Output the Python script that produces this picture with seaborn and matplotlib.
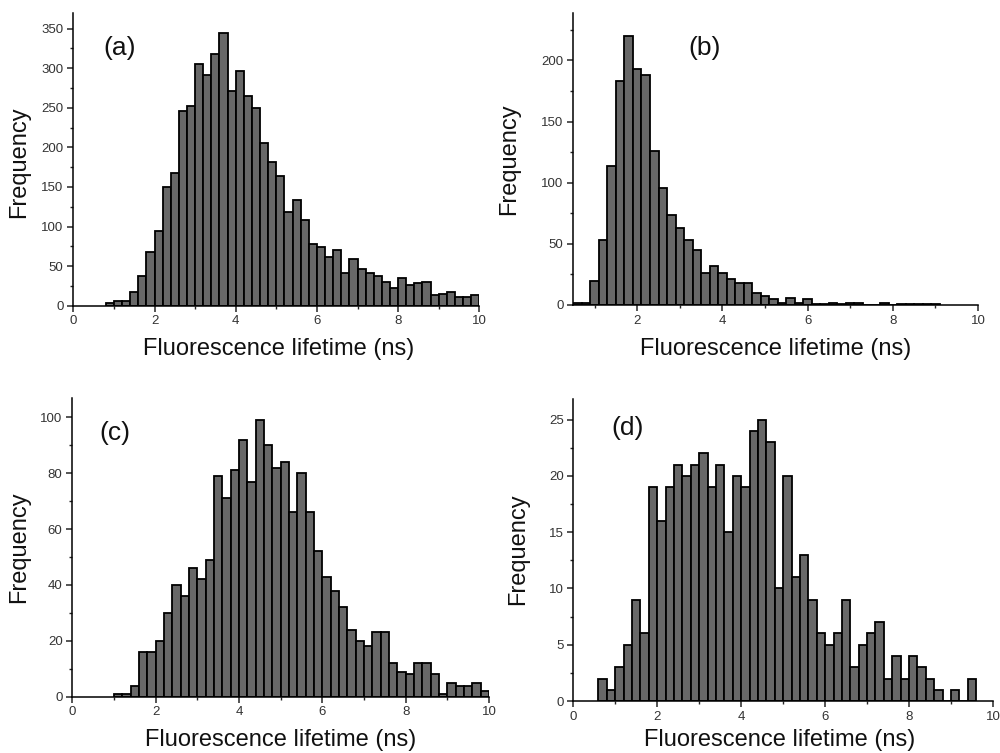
import numpy as np
import pandas as pd
import matplotlib
matplotlib.use("Agg")
import matplotlib.pyplot as plt
from matplotlib.ticker import MultipleLocator
import seaborn as sns

# ---------------- data (counts per 0.2 ns bin) ----------------
bin_width = 0.2

start_a = 0.8
counts_a = [4, 6, 6, 17, 37, 68, 95, 150, 168, 246, 252, 305, 291, 318, 344,
            271, 297, 265, 250, 205, 182, 164, 119, 133, 108, 78, 74, 61, 70,
            41, 59, 46, 41, 37, 30, 23, 35, 26, 29, 30, 13, 15, 17, 11, 11, 14]

start_b = 0.5
counts_b = [2, 2, 20, 53, 114, 183, 220, 193, 188, 126, 96, 74, 63, 53, 45,
            26, 32, 26, 21, 18, 18, 10, 7, 5, 2, 6, 2, 5, 1, 1, 2, 1, 2, 2,
            0, 0, 2, 0, 1, 1, 1, 1, 1]

start_c = 1.0
counts_c = [1, 1, 4, 16, 16, 20, 30, 40, 36, 46, 42, 49, 79, 71, 81, 92, 77,
            99, 90, 82, 84, 66, 80, 66, 52, 43, 38, 32, 24, 20, 18, 23, 23,
            12, 9, 8, 12, 12, 8, 1, 5, 4, 4, 5, 2]

start_d = 0.6
counts_d = [2, 1, 3, 5, 9, 6, 19, 16, 19, 21, 20, 21, 22, 19, 21, 15, 20, 19,
            24, 25, 23, 10, 20, 11, 13, 9, 6, 5, 6, 9, 3, 5, 6, 7, 2, 4, 2, 4,
            3, 2, 1, 0, 1, 0, 2]

panel_labels = ["(a)", "(b)", "(c)", "(d)"]
x_label = "Fluorescence lifetime (ns)"
y_label = "Frequency"

# ---------------- style ----------------
sns.set_style("ticks")
plt.rcParams["font.family"] = ["Liberation Sans", "DejaVu Sans"]

fig = plt.figure(figsize=(10, 7.53), dpi=100)

panels = [
    dict(start=start_a, counts=counts_a, rect=[0.0733, 0.594, 0.406, 0.389],
         xlim=(0, 10), ylim=(0, 370), ymaj=50, ymin=25,
         lab=(0.113, 0.88), ylc=(-0.1067, 0.49), xlc=(0.505, -0.110)),
    dict(start=start_b, counts=counts_b, rect=[0.5733, 0.595, 0.4047, 0.388],
         xlim=(0.5, 10), ylim=(0, 239), ymaj=50, ymin=25,
         lab=(0.325, 0.88), ylc=(-0.1317, 0.5), xlc=(0.500, -0.113)),
    dict(start=start_c, counts=counts_c, rect=[0.0723, 0.0748, 0.4167, 0.397],
         xlim=(0, 10), ylim=(0, 107), ymaj=20, ymin=10,
         lab=(0.102, 0.883), ylc=(-0.1015, 0.5), xlc=(0.501, -0.1065)),
    dict(start=start_d, counts=counts_d, rect=[0.5733, 0.069, 0.4197, 0.4007],
         xlim=(0, 10), ylim=(0, 26.8), ymaj=5, ymin=2.5,
         lab=(0.13, 0.905), ylc=(-0.1055, 0.504), xlc=(0.492, -0.091)),
]

for p, lab in zip(panels, panel_labels):
    ax = fig.add_axes(p["rect"])
    n = len(p["counts"])
    edges = [round(p["start"] + bin_width * i, 3) for i in range(n + 1)]
    centers = [round(e + bin_width / 2, 3) for e in edges[:-1]]
    df = pd.DataFrame({"lifetime": centers, "count": p["counts"]})
    sns.histplot(data=df, x="lifetime", weights="count", bins=edges, ax=ax,
                 color="#686868", edgecolor="black", linewidth=1.3, alpha=1.0)
    ax.set_xlim(*p["xlim"])
    ax.set_ylim(*p["ylim"])
    ax.xaxis.set_major_locator(MultipleLocator(2))
    ax.xaxis.set_minor_locator(MultipleLocator(1))
    ax.yaxis.set_major_locator(MultipleLocator(p["ymaj"]))
    ax.yaxis.set_minor_locator(MultipleLocator(p["ymin"]))
    sns.despine(ax=ax)
    for s in ["left", "bottom"]:
        ax.spines[s].set_linewidth(1.1)
        ax.spines[s].set_color("black")
    ax.tick_params(which="major", direction="out", length=4, width=1.1,
                   labelsize=9.5, labelcolor="#333333", pad=3)
    ax.tick_params(which="minor", direction="out", length=2.5, width=1.0)
    ax.set_xlabel(x_label, fontsize=17, color="#111111")
    ax.set_ylabel(y_label, fontsize=17, color="#111111")
    ax.yaxis.set_label_coords(*p["ylc"])
    ax.xaxis.set_label_coords(*p["xlc"])
    ax.text(p["lab"][0], p["lab"][1], lab, transform=ax.transAxes,
            fontsize=19, ha="center", va="center", color="#111111")

fig.savefig("out.png", dpi=100)
